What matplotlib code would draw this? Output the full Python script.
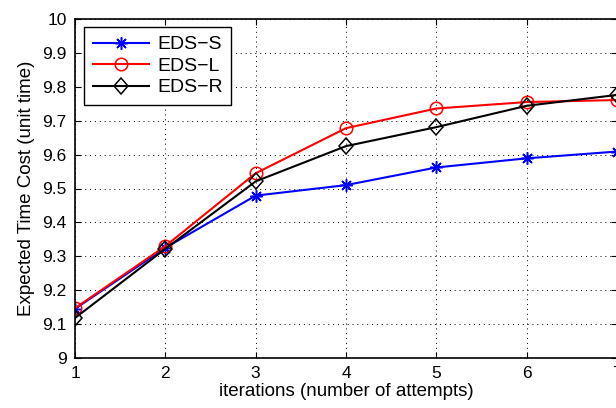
import matplotlib
matplotlib.use("Agg")
import matplotlib.pyplot as plt
from matplotlib.markers import MarkerStyle
from matplotlib.transforms import Affine2D

iterations = [1, 2, 3, 4, 5, 6, 7]
eds_s = [9.145, 9.325, 9.479, 9.510, 9.562, 9.589, 9.609]
eds_l = [9.147, 9.330, 9.545, 9.678, 9.736, 9.755, 9.761]
eds_r = [9.118, 9.322, 9.521, 9.625, 9.681, 9.744, 9.776]
y_ticks = [9.0, 9.1, 9.2, 9.3, 9.4, 9.5, 9.6, 9.7, 9.8, 9.9, 10.0]
y_labels = ["9", "9.1", "9.2", "9.3", "9.4", "9.5", "9.6", "9.7", "9.8", "9.9", "10"]

plt.rcParams['font.family'] = ['Liberation Sans', 'DejaVu Sans']

fig = plt.figure(figsize=(6.16, 4.08), dpi=100)
ax = fig.add_axes([75/616, 1-358/408, 542/616, 339/408])

asterisk = (8, 2, 0)
diamond = MarkerStyle('D', transform=Affine2D().scale(0.8, 1.0))
ax.plot(iterations, eds_s, color='blue', marker=asterisk, markersize=9, lw=1.5,
        markerfacecolor='none', markeredgecolor='blue', markeredgewidth=1.1, label='EDS\u2212S')
ax.plot(iterations, eds_l, color='red', marker='o', markersize=9, lw=1.5,
        markerfacecolor='none', markeredgecolor='red', markeredgewidth=1.1, label='EDS\u2212L')
ax.plot(iterations, eds_r, color='black', marker=diamond, markersize=8.5, lw=1.5,
        markerfacecolor='none', markeredgecolor='black', markeredgewidth=1.1, label='EDS\u2212R')

ax.set_xlim(1, 7)
ax.set_ylim(9, 10)
ax.set_xticks(iterations)
ax.set_yticks(y_ticks)
ax.set_yticklabels(y_labels)
ax.tick_params(direction='in', top=True, right=True, labelsize=12.5, length=4, pad=6)
ax.grid(True, linestyle=(0, (1, 4)), color='black', linewidth=0.7)
for s in ax.spines.values():
    s.set_linewidth(1.2)

ax.set_xlabel('iterations (number of attempts)', fontsize=13.5, labelpad=1)
ax.set_ylabel('Expected Time Cost (unit time)', fontsize=13.5, labelpad=5)

leg = ax.legend(loc='upper left', bbox_to_anchor=(0.0166, 0.976), borderaxespad=0,
                fontsize=14, frameon=True, fancybox=False, edgecolor='black', framealpha=1,
                handlelength=2.9, borderpad=0.45, labelspacing=0.2, handletextpad=0.4)
leg.get_frame().set_linewidth(1.0)

fig.savefig('out.png', dpi=100)
